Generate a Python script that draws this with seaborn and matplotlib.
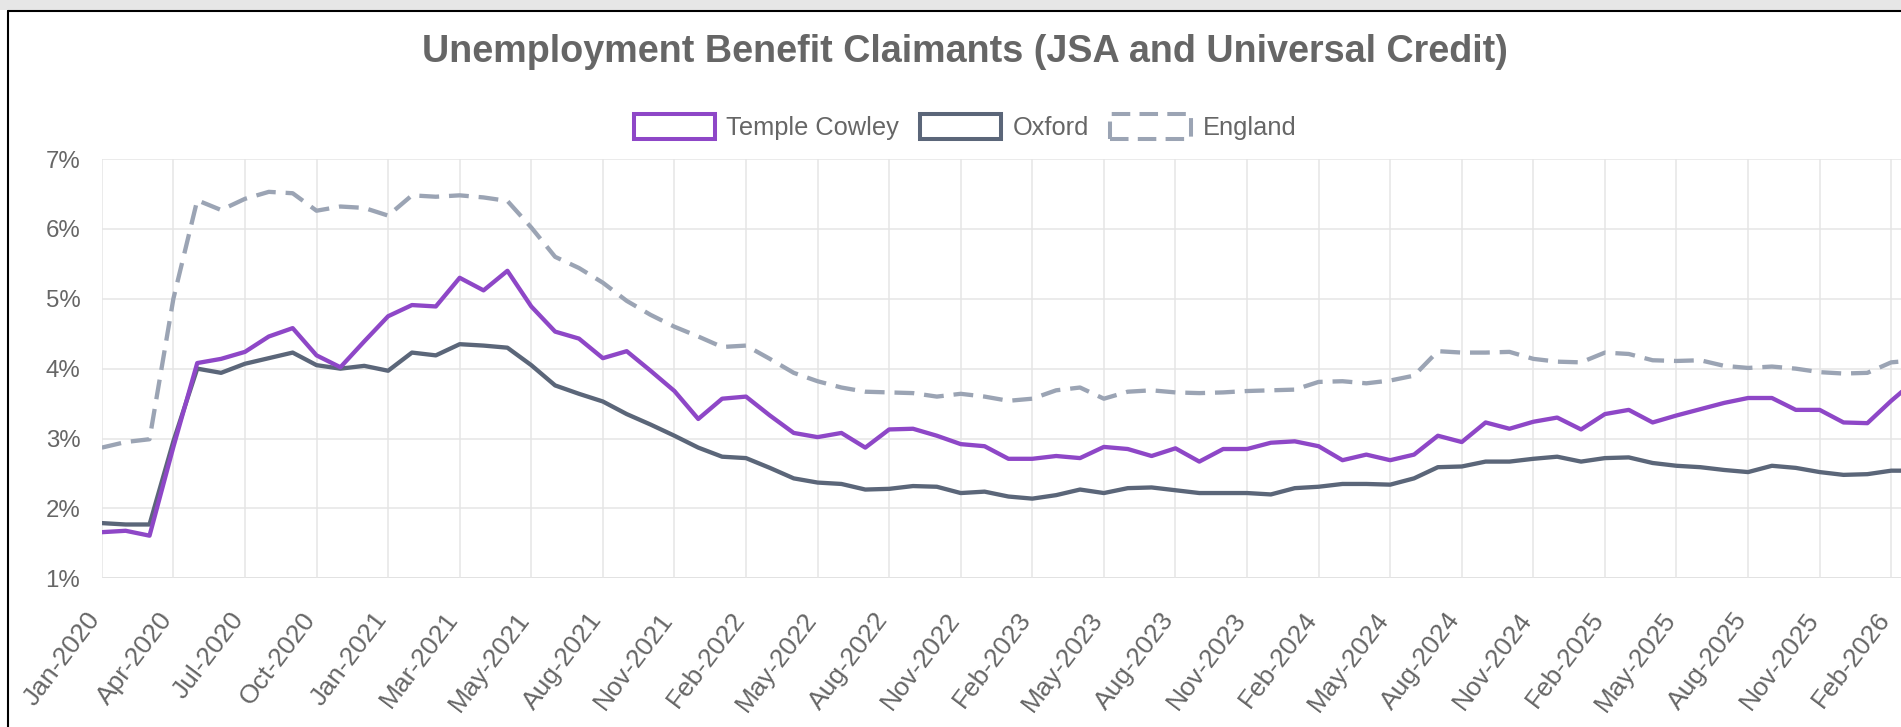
import numpy as np
import pandas as pd
import matplotlib
matplotlib.use("Agg")
import matplotlib.pyplot as plt
from matplotlib.patches import Patch, Rectangle
from matplotlib.lines import Line2D
from matplotlib.transforms import ScaledTranslation
import seaborn as sns

# palette
PURPLE = "#8E47C7"
SLATE = "#5B6679"
GREY = "#9BA4B4"
TEXT = "#666666"
GRID = "#E5E5E5"

# x-axis labels shown (every 3rd point)
tick_labels = [
    "Jan-2020", "Apr-2020", "Jul-2020", "Oct-2020", "Jan-2021", "Mar-2021",
    "May-2021", "Aug-2021", "Nov-2021", "Feb-2022", "May-2022", "Aug-2022",
    "Nov-2022", "Feb-2023", "May-2023", "Aug-2023", "Nov-2023", "Feb-2024",
    "May-2024", "Aug-2024", "Nov-2024", "Feb-2025", "May-2025", "Aug-2025",
    "Nov-2025", "Feb-2026",
]

# claimant rate, % of working-age residents
temple_cowley = [
    1.66, 1.68, 1.61, 2.88, 4.08, 4.14, 4.24, 4.46, 4.58, 4.19,
    4.02, 4.39, 4.75, 4.91, 4.89, 5.30, 5.12, 5.40, 4.89, 4.53,
    4.43, 4.15, 4.25, 3.97, 3.68, 3.28, 3.57, 3.60, 3.33, 3.08,
    3.02, 3.08, 2.87, 3.13, 3.14, 3.04, 2.92, 2.89, 2.71, 2.71,
    2.75, 2.72, 2.88, 2.85, 2.75, 2.86, 2.67, 2.85, 2.85, 2.94,
    2.96, 2.89, 2.69, 2.77, 2.69, 2.77, 3.04, 2.95, 3.23, 3.14,
    3.24, 3.30, 3.13, 3.35, 3.41, 3.23, 3.33, 3.42, 3.51, 3.58,
    3.58, 3.41, 3.41, 3.23, 3.22, 3.54, 3.83,
]
oxford = [
    1.79, 1.77, 1.77, 2.96, 4.00, 3.94, 4.07, 4.15, 4.23, 4.05,
    4.00, 4.04, 3.97, 4.23, 4.19, 4.35, 4.33, 4.30, 4.05, 3.76,
    3.64, 3.53, 3.35, 3.20, 3.04, 2.87, 2.74, 2.72, 2.58, 2.43,
    2.37, 2.35, 2.27, 2.28, 2.32, 2.31, 2.22, 2.24, 2.17, 2.14,
    2.19, 2.27, 2.22, 2.29, 2.30, 2.26, 2.22, 2.22, 2.22, 2.20,
    2.29, 2.31, 2.35, 2.35, 2.34, 2.43, 2.59, 2.60, 2.67, 2.67,
    2.71, 2.74, 2.67, 2.72, 2.73, 2.65, 2.61, 2.59, 2.55, 2.52,
    2.61, 2.58, 2.52, 2.48, 2.49, 2.54, 2.54,
]
england = [
    2.87, 2.95, 2.99, 5.00, 6.41, 6.27, 6.43, 6.53, 6.51, 6.26,
    6.32, 6.30, 6.19, 6.48, 6.46, 6.48, 6.45, 6.40, 6.02, 5.60,
    5.44, 5.23, 4.97, 4.77, 4.60, 4.46, 4.31, 4.33, 4.14, 3.94,
    3.82, 3.73, 3.67, 3.66, 3.65, 3.60, 3.64, 3.60, 3.54, 3.57,
    3.69, 3.73, 3.57, 3.67, 3.69, 3.66, 3.65, 3.66, 3.68, 3.69,
    3.70, 3.81, 3.82, 3.79, 3.83, 3.90, 4.25, 4.23, 4.23, 4.24,
    4.14, 4.10, 4.09, 4.23, 4.21, 4.12, 4.11, 4.12, 4.04, 4.01,
    4.03, 4.00, 3.95, 3.93, 3.94, 4.09, 4.12,
]

sns.set_style("white")
plt.rcParams["font.family"] = ["Liberation Sans", "DejaVu Sans"]

W, H = 1901, 727
fig = plt.figure(figsize=(W / 100, H / 100), dpi=100)

# screenshot frame: grey strip on top, black border top/left
fig.patches.append(Rectangle((0, 1 - 9.5 / H), 1, 9.5 / H, transform=fig.transFigure,
                             facecolor="#E6E6E6", edgecolor="none"))
fig.lines.append(Line2D([8 / W, 1], [1 - 10.5 / H] * 2, transform=fig.transFigure,
                        color="black", lw=1.5))
fig.lines.append(Line2D([8 / W] * 2, [0, 1 - 10.5 / H], transform=fig.transFigure,
                        color="black", lw=1.5))

left = 101.8 / W
bottom = 1 - 578.3 / H
top = 1 - 159 / H
ax = fig.add_axes([left, bottom, 1 - left, top - bottom])

n = len(temple_cowley)
idx = np.arange(n)
LW = 3.1
sns.lineplot(x=idx, y=england, ax=ax, color=GREY, lw=LW)
ax.lines[-1].set_dashes((4.6, 2.3))
sns.lineplot(x=idx, y=oxford, ax=ax, color=SLATE, lw=LW)
sns.lineplot(x=idx, y=temple_cowley, ax=ax, color=PURPLE, lw=LW)

ax.set_xlim(0, 75.41)
ax.set_ylim(1, 7)
ax.set_yticks(range(1, 8))
ax.set_yticklabels([f"{v}%" for v in range(1, 8)])
ax.set_xticks(np.arange(0, 3 * len(tick_labels), 3))
ax.set_xticklabels(tick_labels, rotation=53, ha="right", va="center",
                   rotation_mode="anchor")

for s in ax.spines.values():
    s.set_visible(False)
ax.grid(True, color=GRID, lw=1.1)
ax.set_axisbelow(True)
ax.tick_params(axis="both", length=11.5, width=1.1, color=GRID, labelcolor=TEXT)
ax.tick_params(axis="y", pad=4, labelsize=17.3)
ax.tick_params(axis="x", pad=15, labelsize=19)
shift = ScaledTranslation(-6 / 100, 0, fig.dpi_scale_trans)
for lab in ax.get_xticklabels():
    lab.set_transform(lab.get_transform() + shift)
ax.axhline(1, color="#D9D9D9", lw=1.3, zorder=0.5)
ax.set_xlabel("")
ax.set_ylabel("")

fig.text(965 / W, 1 - 62 / H, "Unemployment Benefit Claimants (JSA and Universal Credit)",
         ha="center", va="baseline", fontsize=27.2, fontweight="bold", color=TEXT)

handles = [
    Patch(facecolor="white", edgecolor=PURPLE, lw=2.9, label="Temple Cowley"),
    Patch(facecolor="white", edgecolor=SLATE, lw=2.9, label="Oxford"),
    Patch(facecolor="white", edgecolor=GREY, lw=2.9, linestyle=(0, (4.6, 2.3)), label="England"),
]
fig.legend(handles=handles, loc="center", bbox_to_anchor=(965 / W, 1 - 127 / H),
           ncol=3, frameon=False, fontsize=18.3, labelcolor=TEXT,
           handlelength=3.19, handleheight=1.12, handletextpad=0.45, columnspacing=0.83)

fig.savefig("out.png", dpi=100)
